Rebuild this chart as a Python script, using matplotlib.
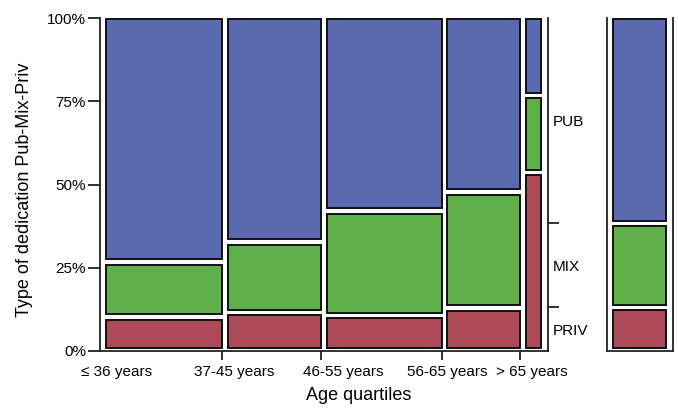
import numpy as np
import matplotlib
matplotlib.use("Agg")
from matplotlib import pyplot as plt

plt.rcParams['font.family'] = ['Liberation Sans', 'DejaVu Sans']

# Data: mosaic of dedication type by age group
age_groups = ['\u2264 36 years', '37-45 years', '46-55 years', '56-65 years', '> 65 years']
group_share = [28.2, 22.6, 27.9, 17.7, 3.6]        # column widths (% of sample)
categories = ['PRIV', 'MIX', 'PUB']
priv = [10.2, 11.6, 10.7, 12.9, 53.6]
mix = [16.5, 21.1, 31.3, 34.8, 23.1]
pub = [73.3, 67.3, 58.0, 52.3, 23.3]
overall = [13.1, 25.2, 61.7]                       # marginal PRIV, MIX, PUB

colors = {'PRIV': '#ad4a5a', 'MIX': '#5fb048', 'PUB': '#5b6ab0'}
edge = '#111111'

# layout constants
col_gap = 1.4
vgap = 0.0165
label_pos = [0.038, 0.299, 0.542, 0.775, 0.964]   # axes fraction of x tick labels

fig = plt.figure(figsize=(6.78, 4.08), dpi=100)
ax = fig.add_axes([100 / 678, 57 / 408, 448 / 678, 333 / 408])
axm = fig.add_axes([607 / 678, 57 / 408, 66 / 678, 333 / 408])

widths = np.array(group_share)
lefts = np.concatenate([[0], np.cumsum(widths)[:-1]]) + np.arange(len(widths)) * col_gap
series = [np.array(priv), np.array(mix), np.array(pub)]


def stacked(axis, x, w, values_list):
    vals = np.array(values_list, dtype=float) / 100.0
    bottoms = np.concatenate([np.zeros((1,) + vals.shape[1:]), np.cumsum(vals, axis=0)[:-1]])
    tops = bottoms + vals
    n = len(vals)
    for i in range(n):
        lo = bottoms[i] + (0.009 if i == 0 else vgap / 2)
        hi = tops[i] - (0.002 if i == n - 1 else vgap / 2)
        axis.bar(x, hi - lo, width=w, bottom=lo, align='edge',
                 color=colors[categories[i]], edgecolor=edge, linewidth=1.4)


stacked(ax, lefts, widths, series)

ax.set_xlim(-1.45, lefts[-1] + widths[-1] + 1.7)
ax.set_ylim(0, 1)
ax.spines['top'].set_visible(False)
for s in ['left', 'bottom', 'right']:
    ax.spines[s].set_color('#222222')
    ax.spines[s].set_linewidth(1.3)

ax.set_yticks([0, 0.25, 0.5, 0.75, 1.0])
ax.set_yticklabels(['0%', '25%', '50%', '75%', '100%'])
ax.tick_params(axis='y', length=8.6, width=1.3, pad=1.5, labelsize=11, color='#222222')

# x ticks at column boundaries, labels placed separately
ax.set_xticks((lefts + widths)[:-1])
ax.set_xticklabels([])
ax.tick_params(axis='x', length=6.5, width=1.3, color='#222222')
for lbl, px in zip(age_groups, label_pos):
    ax.text(px, -0.042, lbl, transform=ax.transAxes, ha='center', va='top', fontsize=11)

ax.set_ylabel('Type of dedication Pub-Mix-Priv', fontsize=13)
ax.yaxis.set_label_coords(-0.15, 0.483)
fig.text(359 / 678, 1 - 396 / 408, 'Age quartiles', ha='center', va='center', fontsize=13)

# right axis: category labels from marginal distribution
ax2 = ax.twinx()
ax2.set_ylim(0, 1)
for s in ax2.spines.values():
    s.set_visible(False)
cum = np.cumsum(overall) / 100.0
ax2.set_yticks(cum[:-1])
ax2.set_yticklabels([])
ax2.tick_params(axis='y', length=8, width=1.3, color='#222222')
mids = (np.concatenate([[0], cum[:-1]]) + cum) / 2
ax2.set_yticks(mids, minor=True)
ax2.set_yticklabels(categories, minor=True)
ax2.tick_params(axis='y', which='minor', length=0, pad=3.5, labelsize=11)

# marginal bar
stacked(axm, [0], [1], [[v] for v in overall])
axm.set_xlim(-0.115, 1.135)
axm.set_ylim(0, 1)
axm.set_xticks([])
axm.set_yticks([])
axm.spines['top'].set_visible(False)
for s in ['left', 'bottom', 'right']:
    axm.spines[s].set_color('#222222')
    axm.spines[s].set_linewidth(1.3)

fig.savefig('out.png', dpi=100)
